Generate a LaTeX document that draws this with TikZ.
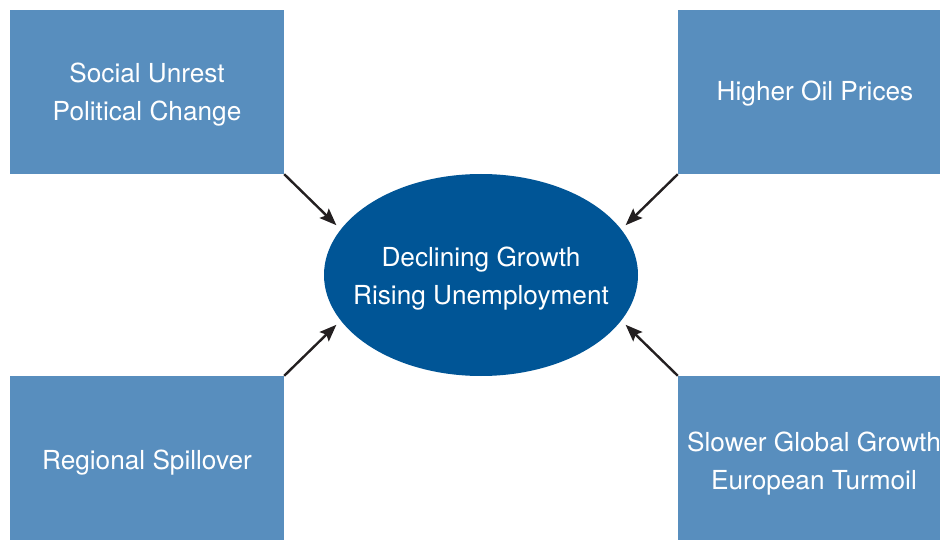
\documentclass[tikz,border=0pt]{standalone}
\usepackage{fontspec}
\setmainfont{TeX Gyre Heros}
\usetikzlibrary{shapes.geometric,arrows.meta}
\definecolor{boxblue}{RGB}{88,142,190}
\definecolor{coreblue}{RGB}{0,85,150}
\definecolor{arrowgray}{RGB}{35,31,32}
\begin{document}
\begin{tikzpicture}[x=1pt,y=1pt]
\tikzstyle{every node}+=[inner sep=0pt, font=\fontsize{26.2}{37.5}\selectfont, text=white, align=center]
\tikzstyle{factor}=[fill=boxblue, minimum height=164pt]
\tikzstyle{link}=[arrowgray, line width=2.4pt, -{Stealth[length=17pt,width=13pt,inset=3pt]}, shorten >=6pt]
\useasboundingbox (0,0) rectangle (940,-540);
\node [factor, minimum width=274pt] (unrest) at (147,-92) {};
\draw (147,-94.5) node {Social Unrest\\Political Change};
\node [factor, minimum width=262pt] (oil) at (809,-92) {};
\draw (815,-93.5) node {Higher Oil Prices};
\node [factor, minimum width=274pt] (spill) at (147,-458) {};
\draw (147,-462.5) node {Regional Spillover};
\node [factor, minimum width=262pt] (global) at (809,-458) {};
\draw (814,-463.5) node {Slower Global Growth\\European Turmoil};
\node [ellipse, fill=coreblue, minimum width=314pt, minimum height=202pt] (core) at (481,-275) {};
\draw (481,-278.5) node {Declining Growth\\Rising Unemployment};
\draw [link] (unrest.south east) -- (core.162);
\draw [link] (oil.south west) -- (core.18);
\draw [link] (spill.north east) -- (core.198);
\draw [link] (global.north west) -- (core.342);
\end{tikzpicture}
\end{document}
